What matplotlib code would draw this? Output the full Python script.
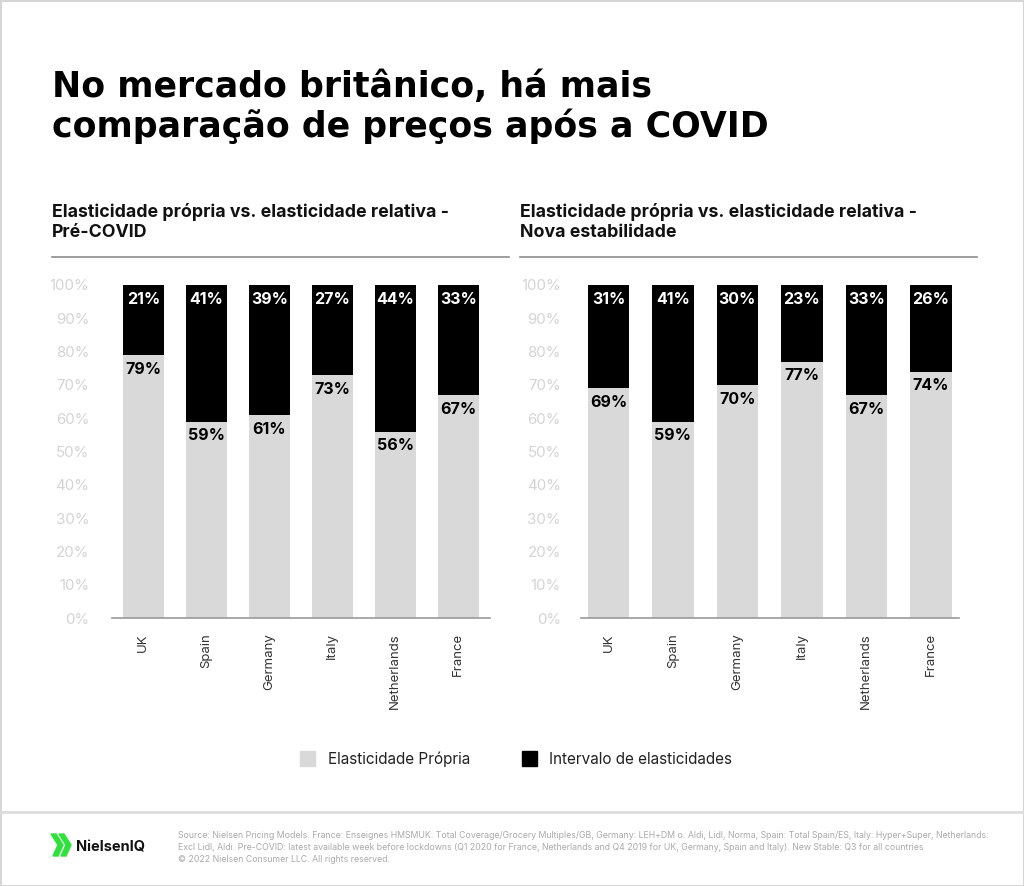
import matplotlib
matplotlib.use('Agg')
import matplotlib.pyplot as plt
from matplotlib.patches import Polygon, Rectangle
from matplotlib.transforms import ScaledTranslation
import numpy as np

# data
countries = ['UK', 'Spain', 'Germany', 'Italy', 'Netherlands', 'France']
own_pre = [79, 59, 61, 73, 56, 67]
range_pre = [21, 41, 39, 27, 44, 33]
own_new = [69, 59, 70, 77, 67, 74]
range_new = [31, 41, 30, 23, 33, 26]
yticks = list(range(0, 101, 10))

title = ['No mercado britânico, há mais', 'comparação de preços após a COVID']
sub_left = ['Elasticidade própria vs. elasticidade relativa -', 'Pré-COVID']
sub_right = ['Elasticidade própria vs. elasticidade relativa -', 'Nova estabilidade']
legend_labels = ['Elasticidade Própria', 'Intervalo de elasticidades']
footer = ['Source: Nielsen Pricing Models. France: Enseignes HMSMUK: Total Coverage/Grocery Multiples/GB, '
          'Germany: LEH+DM o. Aldi, Lidl, Norma, Spain: Total Spain/ES, Italy: Hyper+Super, Netherlands:',
          'Excl Lidl, Aldi. Pre-COVID: latest available week before lockdowns (Q1 2020 for France, '
          'Netherlands and Q4 2019 for UK, Germany, Spain and Italy). New Stable: Q3 for all countries',
          '\u00a9 2022 Nielsen Consumer LLC. All rights reserved.']

LIGHT = '#d9d9d9'
DARK = '#000000'
W, H = 1024, 886

plt.rcParams['font.family'] = ['Inter', 'DejaVu Sans']

fig = plt.figure(figsize=(W / 100, H / 100), dpi=100)

# overlay in pixel coordinates for the decoration
bg = fig.add_axes([0, 0, 1, 1])
bg.set_xlim(0, W)
bg.set_ylim(H, 0)
bg.axis('off')


def px_axes(x0, x1, y_top, y_bot):
    return fig.add_axes([x0 / W, (H - y_bot) / H, (x1 - x0) / W, (y_bot - y_top) / H])


def draw_panel(ax, own, rng, xlim, width, ypad):
    x = np.arange(len(countries))
    ax.bar(x, own, width=width, color=LIGHT)
    ax.bar(x, rng, width=width, bottom=own, color=DARK)
    for xi, o, r in zip(x, own, rng):
        ax.text(xi, o + r - 2.0, f'{r}%', ha='center', va='top', color='white',
                fontsize=11.5, fontweight='bold')
        ax.text(xi, o - 2.0, f'{o}%', ha='center', va='top', color='black',
                fontsize=11.5, fontweight='bold')
    ax.set_xlim(*xlim)
    ax.set_ylim(0, 100)
    ax.set_yticks(yticks)
    ax.set_yticklabels([f'{t}%' for t in yticks], color='#d4d4d4', fontsize=10.8)
    # labels sit a few pixels lower than the ticks in the original
    shift = ScaledTranslation(0, -4 / 100, fig.dpi_scale_trans)
    for lab in ax.get_yticklabels():
        lab.set_transform(lab.get_transform() + shift)
    ax.set_xticks(x)
    ax.set_xticklabels(countries, rotation=90, fontsize=9.5, color='#333333')
    ax.tick_params(axis='y', length=0, pad=ypad)
    ax.tick_params(axis='x', length=0, pad=11)
    for s in ['top', 'right', 'left']:
        ax.spines[s].set_visible(False)
    ax.spines['bottom'].set_color('#9a9a9a')
    ax.spines['bottom'].set_linewidth(1.2)
    ax.set_facecolor('none')


ax1 = px_axes(112, 490, 285, 618)
draw_panel(ax1, own_pre, range_pre, (-0.497, 5.503), 0.656, 16.5)
ax2 = px_axes(581, 959, 285, 618)
draw_panel(ax2, own_new, range_new, (-0.426, 5.437), 0.646, 14.5)

# titles
for i, line in enumerate(title):
    bg.text(52, 97 + 40 * i, line, fontsize=25, fontweight='bold', va='baseline',
            ha='left', family=['DejaVu Sans'], color='black')
for i in range(2):
    bg.text(52, 217 + 20 * i, sub_left[i], fontsize=12.8, fontweight='bold',
            va='baseline', ha='left', color='#111111')
    bg.text(520, 217 + 20 * i, sub_right[i], fontsize=12.8, fontweight='bold',
            va='baseline', ha='left', color='#111111')
bg.plot([52, 509], [257, 257], color='#8c8c8c', lw=1.2)
bg.plot([520, 977], [257, 257], color='#8c8c8c', lw=1.2)

# legend
bg.add_patch(Rectangle((300, 751), 15, 15, color=LIGHT))
bg.text(328, 759, legend_labels[0], fontsize=11, va='center', color='#222222')
bg.add_patch(Rectangle((522, 751), 15, 15, color=DARK))
bg.text(549, 759, legend_labels[1], fontsize=11, va='center', color='#222222')

# footer
bg.plot([0, W], [812, 812], color='#dddddd', lw=2)
green = '#2de23a'
bg.add_patch(Polygon([(51, 834), (56, 834), (63, 845), (58, 856), (53, 856), (58, 845)],
                     closed=True, color=green))
bg.add_patch(Polygon([(59, 834), (64, 834), (71, 845), (66, 856), (61, 856), (66, 845)],
                     closed=True, color=green))
bg.text(76, 848, 'NielsenIQ', fontsize=10.5, fontweight='bold', va='center', color='#111111')
for i, line in enumerate(footer):
    bg.text(178, 836 + 12 * i, line, fontsize=6.3, va='center', ha='left', color='#aaaaaa')

# thin frame around the whole picture
bg.add_patch(Rectangle((0.5, 0.5), W - 1, H - 1, fill=False, ec='#d6d6d6', lw=1.5))

fig.savefig('out.png', dpi=100)
